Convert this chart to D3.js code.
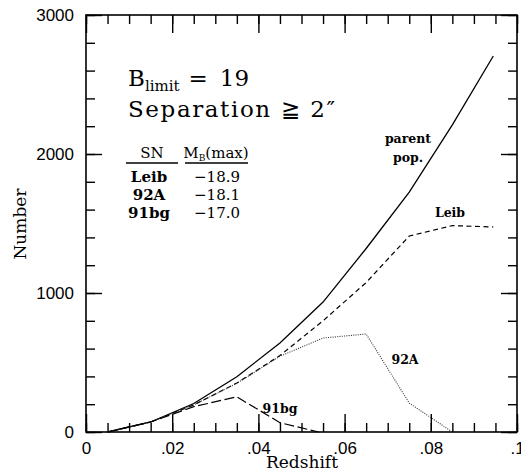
<html>
<head>
<title> Redshift number counts </title>
<script src="https://d3js.org/d3.v7.min.js"></script>
<style>

body {
  margin: 0;
  background: white;
}

.tick text {
  font-family: "Liberation Sans", Arial, sans-serif;
  font-size: 17px;
}
.serif {
  font-family: "DejaVu Serif", serif;
}

</style>
</head>

<body>
<svg id="counts" height="471" width="521"></svg>

<script>

//values
const redshift = [0.005, 0.015, 0.025, 0.035, 0.045, 0.055, 0.065, 0.075, 0.085, 0.0945];
const parentPop = [0, 72, 205, 398, 640, 935, 1320, 1725, 2210, 2705];
const leib = [0, 72, 195, 352, 550, 800, 1075, 1410, 1485, 1475];

const redshift92A = [0.005, 0.015, 0.025, 0.035, 0.045, 0.055, 0.065, 0.075, 0.085];
const sn92A = [0, 72, 195, 350, 545, 676, 705, 208, 0];

const redshift91bg = [0.005, 0.015, 0.025, 0.035, 0.045, 0.054];
const sn91bg = [0, 72, 182, 253, 67, 0];

const xTicks = [0, 0.02, 0.04, 0.06, 0.08, 0.1];
const xTickLabels = ["0", ".02", ".04", ".06", ".08", ".1"];
const yTicks = [0, 1000, 2000, 3000];

const tableRows = [["Leib", "\u221218.9"], ["92A", "\u221218.1"], ["91bg", "\u221217.0"]];

//space
const svg = d3.select("svg#counts");
const margin = {top: 15, right: 4, bottom: 39, left: 86};
const width = svg.attr("width");
const height = svg.attr("height");
const chartWidth = width - margin.left - margin.right;
const chartHeight = height - margin.top - margin.bottom;

let chartArea = svg.append("g").attr("id","points")
                  .attr("transform",`translate(${margin.left},${margin.top})`);

//scales
const xScale = d3.scaleLinear().domain([0, 0.1]).range([0, chartWidth]);
const yScale = d3.scaleLinear().domain([0, 3000]).range([chartHeight, 0]);

//minor + major ticks on all four sides
const xMinor = d3.range(0, 0.1001, 0.005);
const yMinor = d3.range(0, 3001, 200);

function tickAxis(axisFn, scale, values, size) {
  return axisFn(scale).tickValues(values).tickSize(size).tickFormat("");
}

chartArea.append("g").attr("transform",`translate(0,${chartHeight})`)
         .call(tickAxis(d3.axisTop, xScale, xMinor, 9));
chartArea.append("g").attr("transform",`translate(0,${chartHeight})`)
         .call(tickAxis(d3.axisTop, xScale, xTicks, 18));
chartArea.append("g")
         .call(tickAxis(d3.axisBottom, xScale, xMinor, 9));
chartArea.append("g")
         .call(tickAxis(d3.axisBottom, xScale, xTicks, 18));
chartArea.append("g")
         .call(tickAxis(d3.axisRight, yScale, yMinor, 9));
chartArea.append("g")
         .call(tickAxis(d3.axisRight, yScale, yTicks, 16));
chartArea.append("g").attr("transform",`translate(${chartWidth},0)`)
         .call(tickAxis(d3.axisLeft, yScale, yMinor, 9));
chartArea.append("g").attr("transform",`translate(${chartWidth},0)`)
         .call(tickAxis(d3.axisLeft, yScale, yTicks, 16));

chartArea.selectAll(".domain").remove();
chartArea.selectAll(".tick line").attr("stroke", "#000").attr("stroke-width", 1.4);

//frame
chartArea.append("rect")
    .attr("x", 0).attr("y", 0)
    .attr("width", chartWidth).attr("height", chartHeight)
    .attr("fill", "none").attr("stroke", "#000").attr("stroke-width", 1.6);

//tick labels
let bottomAxis = d3.axisBottom(xScale).tickValues(xTicks).tickSize(0).tickPadding(10)
                   .tickFormat((d, i) => xTickLabels[i]);
chartArea.append("g").attr("transform",`translate(0,${chartHeight})`)
         .call(bottomAxis).select(".domain").remove();

let leftAxis = d3.axisLeft(yScale).tickValues(yTicks).tickSize(0).tickPadding(12)
                 .tickFormat(d3.format("d"));
chartArea.append("g").call(leftAxis).select(".domain").remove();
chartArea.selectAll(".tick text").attr("fill", "#000");

//axis labels
svg.append("text").attr("class", "serif")
    .attr("text-anchor", "middle")
    .attr("x", 302).attr("y", 468)
    .attr("font-size", "17px")
    .text("Redshift");

svg.append("text").attr("class", "serif")
    .attr("text-anchor", "middle")
    .attr("transform", "translate(26,224) rotate(-90)")
    .attr("font-size", "17px")
    .text("Number");

//curves
const line = d3.line().x(d => xScale(d[0])).y(d => yScale(d[1]));

const series = [
  {x: redshift, y: parentPop, dash: null, color: "#000", w: 1.3},
  {x: redshift, y: leib, dash: "5,3.5", color: "#000", w: 1.2},
  {x: redshift92A, y: sn92A, dash: "1,1.3", color: "#333", w: 1.1},
  {x: redshift91bg, y: sn91bg, dash: "10,3.5", color: "#000", w: 1.2}
];

series.forEach(s => {
  chartArea.append("path")
      .datum(d3.zip(s.x, s.y))
      .attr("fill", "none")
      .attr("stroke", s.color)
      .attr("stroke-width", s.w)
      .attr("stroke-dasharray", s.dash)
      .attr("d", line);
});

//curve labels
const curveLabels = [
  ["parent", 408, 143], ["pop.", 408, 162], ["Leib", 450, 217],
  ["92A", 405, 364], ["91bg", 280, 413]
];
curveLabels.forEach(l => {
  svg.append("text").attr("class", "serif")
      .attr("text-anchor", "middle")
      .attr("font-weight", "bold")
      .attr("font-size", "12.5px")
      .attr("x", l[1]).attr("y", l[2])
      .text(l[0]);
});

//annotation block
const title = svg.append("text").attr("class", "serif")
    .attr("x", 128).attr("y", 86).attr("font-size", "23px");
title.append("tspan").text("B");
title.append("tspan").attr("font-size", "15px").attr("dy", 5).text("limit");
title.append("tspan").attr("dy", -5).attr("dx", 9).text("=");
title.append("tspan").attr("dx", 12).text("19");

svg.append("text").attr("class", "serif")
    .attr("x", 128).attr("y", 117).attr("font-size", "23px")
    .attr("letter-spacing", "1.6px")
    .text("Separation \u2267 2\u2033");

const head = svg.append("g").attr("class", "serif").attr("font-size", "15px");
head.append("text").attr("x", 152).attr("y", 158).attr("text-anchor", "middle").text("SN");
const mb = head.append("text").attr("x", 216).attr("y", 158).attr("text-anchor", "middle");
mb.append("tspan").text("M");
mb.append("tspan").attr("font-size", "9px").attr("dy", 3).text("B");
mb.append("tspan").attr("dy", -3).text("(max)");
head.append("line").attr("x1", 126).attr("x2", 178).attr("y1", 163).attr("y2", 163)
    .attr("stroke", "#000").attr("stroke-width", 1.3);
head.append("line").attr("x1", 185).attr("x2", 248).attr("y1", 163).attr("y2", 163)
    .attr("stroke", "#000").attr("stroke-width", 1.3);

tableRows.forEach((r, i) => {
  head.append("text").attr("x", 149).attr("y", 182 + i * 18)
      .attr("text-anchor", "middle").attr("font-weight", "bold").text(r[0]);
  head.append("text").attr("x", 217).attr("y", 182 + i * 18)
      .attr("text-anchor", "middle").text(r[1]);
});

</script>

</body>
</html>
